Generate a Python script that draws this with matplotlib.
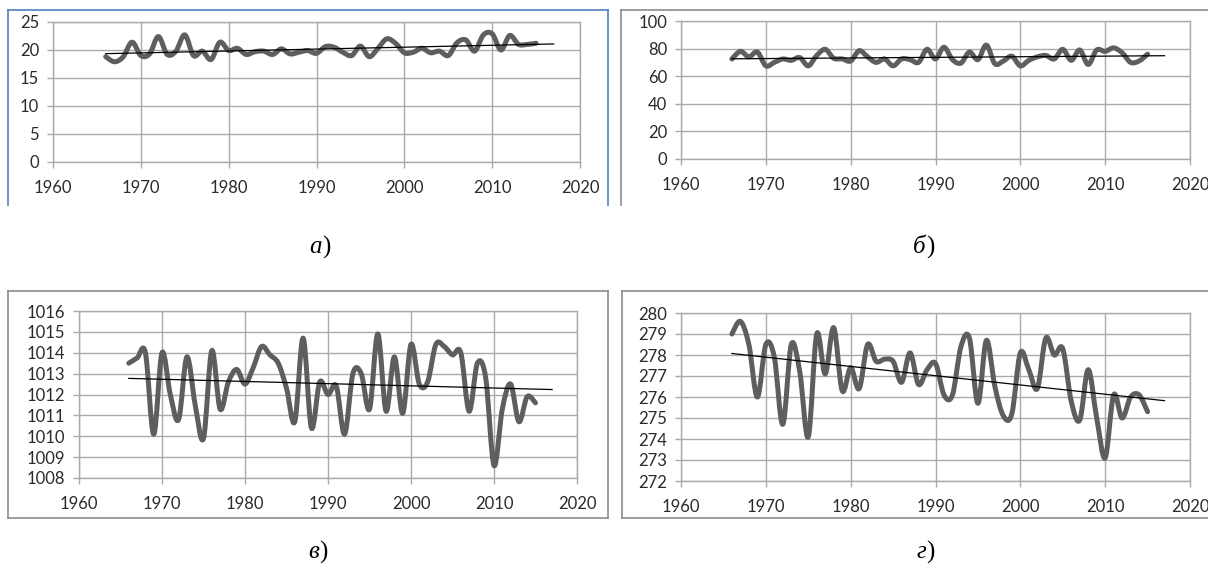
import numpy as np
import matplotlib
matplotlib.use("Agg")
import matplotlib.pyplot as plt
from matplotlib.path import Path
from matplotlib.patches import PathPatch
from matplotlib.lines import Line2D

years = list(range(1966, 2016))

temp_a = [18.8, 17.9, 18.8, 21.4, 19.0, 19.3, 22.4, 19.2, 19.8, 22.7,
          19.0, 19.8, 18.3, 21.4, 19.9, 20.3, 19.2, 19.7, 19.8, 19.2,
          20.2, 19.3, 19.6, 19.9, 19.4, 20.6, 20.5, 19.6, 19.0, 20.7,
          18.8, 20.3, 22.0, 21.2, 19.5, 19.6, 20.3, 19.5, 19.8, 19.0,
          21.3, 21.8, 19.8, 22.7, 22.9, 20.0, 22.6, 21.0, 21.0, 21.2]

humid_b = [72.5, 78.0, 74.0, 77.5, 67.5, 70.0, 72.5, 71.5, 73.5, 67.5,
           75.0, 79.5, 73.0, 72.5, 71.0, 78.5, 74.0, 70.0, 72.5, 67.5,
           72.5, 72.0, 70.0, 79.5, 72.5, 81.0, 72.0, 69.5, 77.5, 72.0,
           82.5, 69.0, 71.0, 74.5, 67.5, 71.5, 74.0, 75.0, 72.5, 79.5,
           71.5, 79.0, 68.5, 79.0, 78.0, 80.5, 77.0, 70.0, 71.0, 76.0]

press_c = [1013.5, 1013.75, 1014.0, 1010.1, 1014.0, 1012.0, 1010.8, 1013.8, 1011.5, 1009.9,
           1014.1, 1011.3, 1012.6, 1013.2, 1012.5, 1013.3, 1014.3, 1013.9, 1013.5, 1012.3,
           1010.7, 1014.7, 1010.4, 1012.6, 1012.0, 1012.4, 1010.1, 1013.0, 1013.0, 1011.3,
           1014.9, 1011.2, 1013.8, 1011.1, 1014.4, 1012.5, 1012.6, 1014.4, 1014.3, 1013.9,
           1014.0, 1011.2, 1013.5, 1012.8, 1008.6, 1011.3, 1012.5, 1010.7, 1011.9, 1011.6]

val_d = [279.0, 279.6, 278.5, 276.0, 278.5, 277.9, 274.7, 278.5, 277.2, 274.1,
         279.0, 277.1, 279.3, 276.3, 277.4, 276.4, 278.5, 277.7, 277.8, 277.7,
         276.7, 278.1, 276.6, 277.3, 277.6, 276.1, 276.1, 278.4, 278.8, 275.7,
         278.7, 276.5, 275.1, 275.2, 278.1, 277.3, 276.4, 278.8, 278.0, 278.3,
         275.8, 274.9, 277.3, 275.0, 273.1, 276.1, 275.0, 276.0, 276.1, 275.3]

x_ticks = [1960, 1970, 1980, 1990, 2000, 2010, 2020]
yticks_a = [0, 5, 10, 15, 20, 25]
yticks_b = [0, 20, 40, 60, 80, 100]
yticks_c = list(range(1008, 1017))
yticks_d = list(range(272, 281))
captions = ["а", "б", "в", "г"]

W, H = 1208, 572
fig = plt.figure(figsize=(W / 100, H / 100), dpi=100)
fig.patch.set_facecolor("white")

GRID = "#aaaaaa"
LINE = "#5e5e5e"
TXT = "#2a2a2a"
FONT = "Lato"


def smooth_patch(x, y):
    x = np.asarray(x, float)
    y = np.asarray(y, float)
    n = len(x)
    verts = [(x[0], y[0])]
    codes = [Path.MOVETO]
    for i in range(n - 1):
        p0 = i - 1 if i > 0 else i
        p3 = i + 2 if i + 2 < n else i + 1
        c1 = (x[i] + (x[i + 1] - x[p0]) / 6, y[i] + (y[i + 1] - y[p0]) / 6)
        c2 = (x[i + 1] - (x[p3] - x[i]) / 6, y[i + 1] - (y[p3] - y[i]) / 6)
        verts += [c1, c2, (x[i + 1], y[i + 1])]
        codes += [Path.CURVE4] * 3
    return PathPatch(Path(verts, codes), fill=False, ec=LINE, lw=3.6,
                     capstyle="round", joinstyle="round", zorder=3)


def make_axes(px_left, px_right, px_top, px_bottom):
    return fig.add_axes([px_left / W, 1 - px_bottom / H,
                         (px_right - px_left) / W, (px_bottom - px_top) / H])


def draw_panel(ax, data, yticks):
    ax.set_xlim(1960, 2020)
    ax.set_ylim(yticks[0], yticks[-1])
    ax.set_xticks(x_ticks)
    ax.set_yticks(yticks)
    ax.grid(True, color=GRID, lw=1.0)
    ax.set_axisbelow(True)
    for s in ax.spines.values():
        s.set_color(GRID)
        s.set_linewidth(1.0)
    ax.tick_params(axis="both", colors=GRID, length=4, width=1.0,
                   labelcolor=TXT, labelsize=12)
    ax.tick_params(axis="x", pad=9)
    ax.tick_params(axis="y", pad=6)
    for lab in ax.get_xticklabels() + ax.get_yticklabels():
        lab.set_fontfamily(FONT)
    ax.add_patch(smooth_patch(years, data))
    coef = np.polyfit(years, data, 1)
    tx = np.array([years[0], 2017])
    ax.plot(tx, np.polyval(coef, tx), color="black", lw=0.9, zorder=4)
    ax.set_facecolor("white")


ax_a = make_axes(53, 580, 22, 162)
draw_panel(ax_a, temp_a, yticks_a)
ax_b = make_axes(681, 1190, 21, 159)
draw_panel(ax_b, humid_b, yticks_b)
ax_c = make_axes(79, 577, 311, 478)
draw_panel(ax_c, press_c, yticks_c)
ax_d = make_axes(681, 1190, 313, 481)
draw_panel(ax_d, val_d, yticks_d)


def fline(x1, y1, x2, y2, color):
    fig.add_artist(Line2D([x1 / W, x2 / W], [1 - y1 / H, 1 - y2 / H],
                          transform=fig.transFigure, color=color, lw=1.2))


BLUE = "#4f81bd"
BOX = "#8c8c8c"
# panel a frame
fline(8, 10, 608, 10, BLUE)
fline(8, 10, 8, 205, BLUE)
fline(608, 10, 608, 205, BLUE)
# panel b frame
fline(621, 10, 1208, 10, BOX)
fline(621, 10, 621, 205, BOX)
# panel c frame
fline(8, 291, 608, 291, BOX)
fline(8, 518, 608, 518, BOX)
fline(8, 291, 8, 518, BOX)
fline(608, 291, 608, 518, BOX)
# panel d frame
fline(622, 291, 1208, 291, BOX)
fline(622, 518, 1208, 518, BOX)
fline(622, 291, 622, 518, BOX)

cap_pos = [(322, 247), (926, 247), (319, 552), (926, 552)]
for letter, (cx, cy) in zip(captions, cap_pos):
    fig.text(cx / W, 1 - cy / H, letter, ha="right", va="center",
             fontsize=18, fontstyle="italic", family="Liberation Serif", color="black")
    fig.text(cx / W, 1 - cy / H, ")", ha="left", va="center",
             fontsize=18, family="Liberation Serif", color="black")

fig.savefig("out.png", dpi=100, facecolor="white")
